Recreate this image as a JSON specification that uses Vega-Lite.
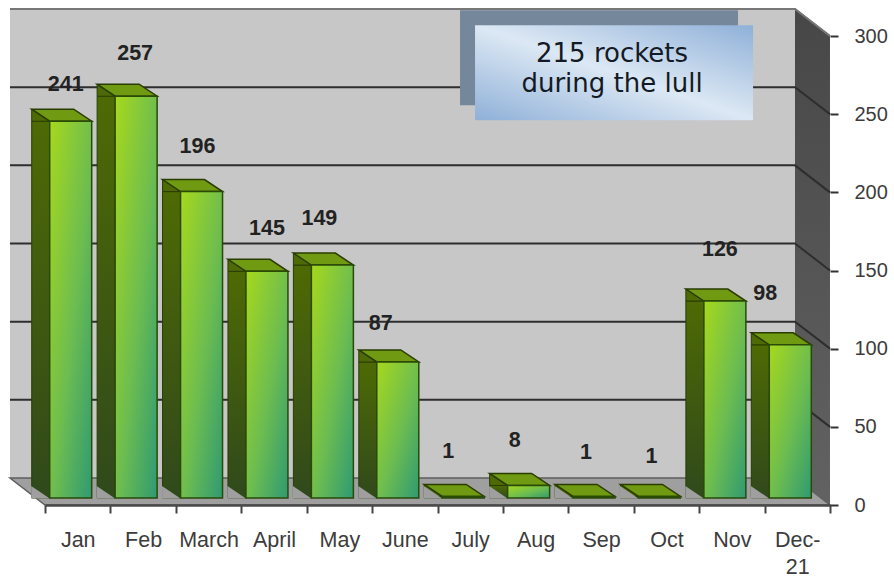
{"$schema":"https://vega.github.io/schema/vega-lite/v6.json","width":785,"height":469,"autosize":{"type":"none"},"padding":{"left":45,"top":36,"right":64,"bottom":75},"background":"white","config":{"view":{"stroke":null},"font":"Liberation Sans"},
"data":{"values":[{"month":"Jan","rockets":241},{"month":"Feb","rockets":257},{"month":"March","rockets":196},{"month":"April","rockets":145},{"month":"May","rockets":149},{"month":"June","rockets":87},{"month":"July","rockets":1},{"month":"Aug","rockets":8},{"month":"Sep","rockets":1},{"month":"Oct","rockets":1},{"month":"Nov","rockets":126},{"month":"Dec-21","rockets":98}]},
"encoding":{
"x":{"field":"month","type":"nominal","title":null,"sort":null,"scale":{"domain":["Jan","Feb","March","April","May","June","July","Aug","Sep","Oct","Nov","Dec-21"],"paddingInner":0,"paddingOuter":0},"axis":{"zindex":1,"tickBand":"extent","labelAngle":0,"labelFont":"Liberation Sans","labelFontSize":21.5,"labelColor":"#3c3c3c","labelPadding":16,"labelLineHeight":27,"tickSize":8,"tickWidth":2,"tickColor":"#444444","domainColor":"#4a4a4a","domainWidth":2.5,"labelBaseline":"top","labelExpr":"datum.value=='Dec-21'?['Dec-','21']:datum.value"}},
"y":{"field":"rockets","type":"quantitative","title":null,"scale":{"domain":[0,300],"nice":false},"axis":{"orient":"right","zindex":1,"values":[0,50,100,150,200,250,300],"domain":false,"grid":false,"labelFont":"Liberation Sans","labelFontSize":20,"labelColor":"#3c3c3c","labelPadding":16,"tickSize":8,"tickWidth":2,"tickColor":"#333333"}}},
"layer":[
{"data":{"values":[{"month":"Dec-21","rockets":0}]},"mark":{"type":"point","filled":true,"opacity":1,"size":4,"fill":"#c7c7c7","stroke":null,"shape":"M-787.3 -497 L-2.3 -497 L-2.3 -27 L-787.3 -27 Z"}},
{"data":{"values":[{"month":"Dec-21","rockets":0}]},"mark":{"type":"point","filled":true,"opacity":1,"size":4,"fill":"#9f9f9f","stroke":"#5f5f5f","strokeWidth":1.5,"shape":"M-787.3 -27 L-2.3 -27 L32.7 0 L-752.3 0 Z"}},
{"data":{"values":[{"month":"Dec-21","rockets":0}]},"mark":{"type":"point","filled":true,"opacity":1,"size":4,"fill":{"gradient":"linear","x1":0,"y1":0,"x2":0,"y2":1,"stops":[{"offset":0,"color":"#474747"},{"offset":1,"color":"#626262"}]},"stroke":null,"shape":"M-2.3 -497 L32.7 -470 L32.7 0 L-2.3 -27 Z"}},
{"data":{"values":[{"month":"Dec-21","rockets":300}]},"mark":{"type":"point","filled":false,"opacity":1,"size":4,"stroke":"#777777","strokeWidth":2,"shape":"M-787.3 -27 L-2.3 -27 L32.7 0"}},
{"data":{"values":[{"month":"Dec-21","rockets":50},{"month":"Dec-21","rockets":100},{"month":"Dec-21","rockets":150},{"month":"Dec-21","rockets":200},{"month":"Dec-21","rockets":250}]},"mark":{"type":"point","filled":false,"opacity":1,"size":4,"stroke":"#2e2e2e","strokeWidth":2,"shape":"M-787.3 -27 L-2.3 -27 L32.7 0"}},
{"data":{"values":[{"month":"Sep","rockets":250}]},"mark":{"type":"point","filled":true,"opacity":1,"size":4,"fill":"#74879b","stroke":null,"shape":"M-141 -104 L137 -104 L137 -9 L-141 -9 Z"}},
{"data":{"values":[{"month":"Sep","rockets":250}]},"mark":{"type":"point","filled":true,"opacity":1,"size":4,"fill":{"gradient":"linear","x1":1,"y1":0,"x2":0,"y2":1,"stops":[{"offset":0,"color":"#8fb0d8"},{"offset":0.5,"color":"#dce8f4"},{"offset":1,"color":"#8fb0d8"}]},"stroke":null,"shape":"M-126 -89 L152 -89 L152 6 L-126 6 Z"}},
{"data":{"values":[{"month":"Sep","rockets":250}]},"mark":{"type":"text","text":["215 rockets","during the lull"],"font":"DejaVu Sans","fontSize":26,"lineHeight":30,"align":"center","baseline":"middle","dx":11,"dy":-60,"color":"#141a24"}},
{"mark":{"type":"bar","width":18,"xOffset":-37,"x2Offset":-37,"yOffset":-7,"y2Offset":-7,"fill":{"gradient":"linear","x1":0,"y1":0,"x2":0,"y2":1,"stops":[{"offset":0,"color":"#4e6a04"},{"offset":1,"color":"#30491c"}]},"stroke":"#2a3d00","strokeWidth":1},"encoding":{"y2":{"datum":0}}},
{"mark":{"type":"point","filled":true,"opacity":1,"size":4,"fill":"#4e6a04","stroke":"#2a3d00","strokeWidth":1,"shape":"M-28 -7 L-46 -19 L-46 -7 Z"}},
{"mark":{"type":"point","filled":true,"opacity":1,"size":4,"fill":"#9f9f9f","stroke":null,"shape":"M-46.5 -6.5 L-28 -6.5 L-46.5 -19 Z"},"encoding":{"y":{"datum":0}}},
{"mark":{"type":"point","filled":true,"opacity":1,"size":4,"fill":"#6f9a12","stroke":"#2a3d00","strokeWidth":1.5,"shape":"M-28 -7 L14 -7 L-4 -19 L-46 -19 Z"}},
{"mark":{"type":"bar","width":42,"xOffset":-7,"x2Offset":-7,"yOffset":-7,"y2Offset":-7,"fill":{"gradient":"linear","x1":0,"y1":0,"x2":1,"y2":1,"stops":[{"offset":0,"color":"#a6d81c"},{"offset":0.55,"color":"#6cbc50"},{"offset":1,"color":"#2f9a72"}]},"stroke":"#2a4a08","strokeWidth":1.5},"encoding":{"y2":{"datum":0}}},
{"transform":[{"filter":"datum.month=='Jan'"}],"mark":{"type":"text","fontSize":21.5,"fontWeight":"bold","color":"#222222","dx":-12,"dy":-43},"encoding":{"text":{"field":"rockets"}}},
{"transform":[{"filter":"datum.month=='Feb'"}],"mark":{"type":"text","fontSize":21.5,"fontWeight":"bold","color":"#222222","dx":-8,"dy":-49},"encoding":{"text":{"field":"rockets"}}},
{"transform":[{"filter":"datum.month=='March'"}],"mark":{"type":"text","fontSize":21.5,"fontWeight":"bold","color":"#222222","dx":-11,"dy":-52},"encoding":{"text":{"field":"rockets"}}},
{"transform":[{"filter":"datum.month=='April'"}],"mark":{"type":"text","fontSize":21.5,"fontWeight":"bold","color":"#222222","dx":-7,"dy":-49},"encoding":{"text":{"field":"rockets"}}},
{"transform":[{"filter":"datum.month=='May'"}],"mark":{"type":"text","fontSize":21.5,"fontWeight":"bold","color":"#222222","dx":-20,"dy":-53},"encoding":{"text":{"field":"rockets"}}},
{"transform":[{"filter":"datum.month=='June'"}],"mark":{"type":"text","fontSize":21.5,"fontWeight":"bold","color":"#222222","dx":-24,"dy":-45},"encoding":{"text":{"field":"rockets"}}},
{"transform":[{"filter":"datum.month=='July'"}],"mark":{"type":"text","fontSize":21.5,"fontWeight":"bold","color":"#222222","dx":-22,"dy":-51},"encoding":{"text":{"field":"rockets"}}},
{"transform":[{"filter":"datum.month=='Aug'"}],"mark":{"type":"text","fontSize":21.5,"fontWeight":"bold","color":"#222222","dx":-21,"dy":-51},"encoding":{"text":{"field":"rockets"}}},
{"transform":[{"filter":"datum.month=='Sep'"}],"mark":{"type":"text","fontSize":21.5,"fontWeight":"bold","color":"#222222","dx":-15,"dy":-50},"encoding":{"text":{"field":"rockets"}}},
{"transform":[{"filter":"datum.month=='Oct'"}],"mark":{"type":"text","fontSize":21.5,"fontWeight":"bold","color":"#222222","dx":-15,"dy":-46},"encoding":{"text":{"field":"rockets"}}},
{"transform":[{"filter":"datum.month=='Nov'"}],"mark":{"type":"text","fontSize":21.5,"fontWeight":"bold","color":"#222222","dx":-12,"dy":-58},"encoding":{"text":{"field":"rockets"}}},
{"transform":[{"filter":"datum.month=='Dec-21'"}],"mark":{"type":"text","fontSize":21.5,"fontWeight":"bold","color":"#222222","dx":-32,"dy":-58},"encoding":{"text":{"field":"rockets"}}}
]}
